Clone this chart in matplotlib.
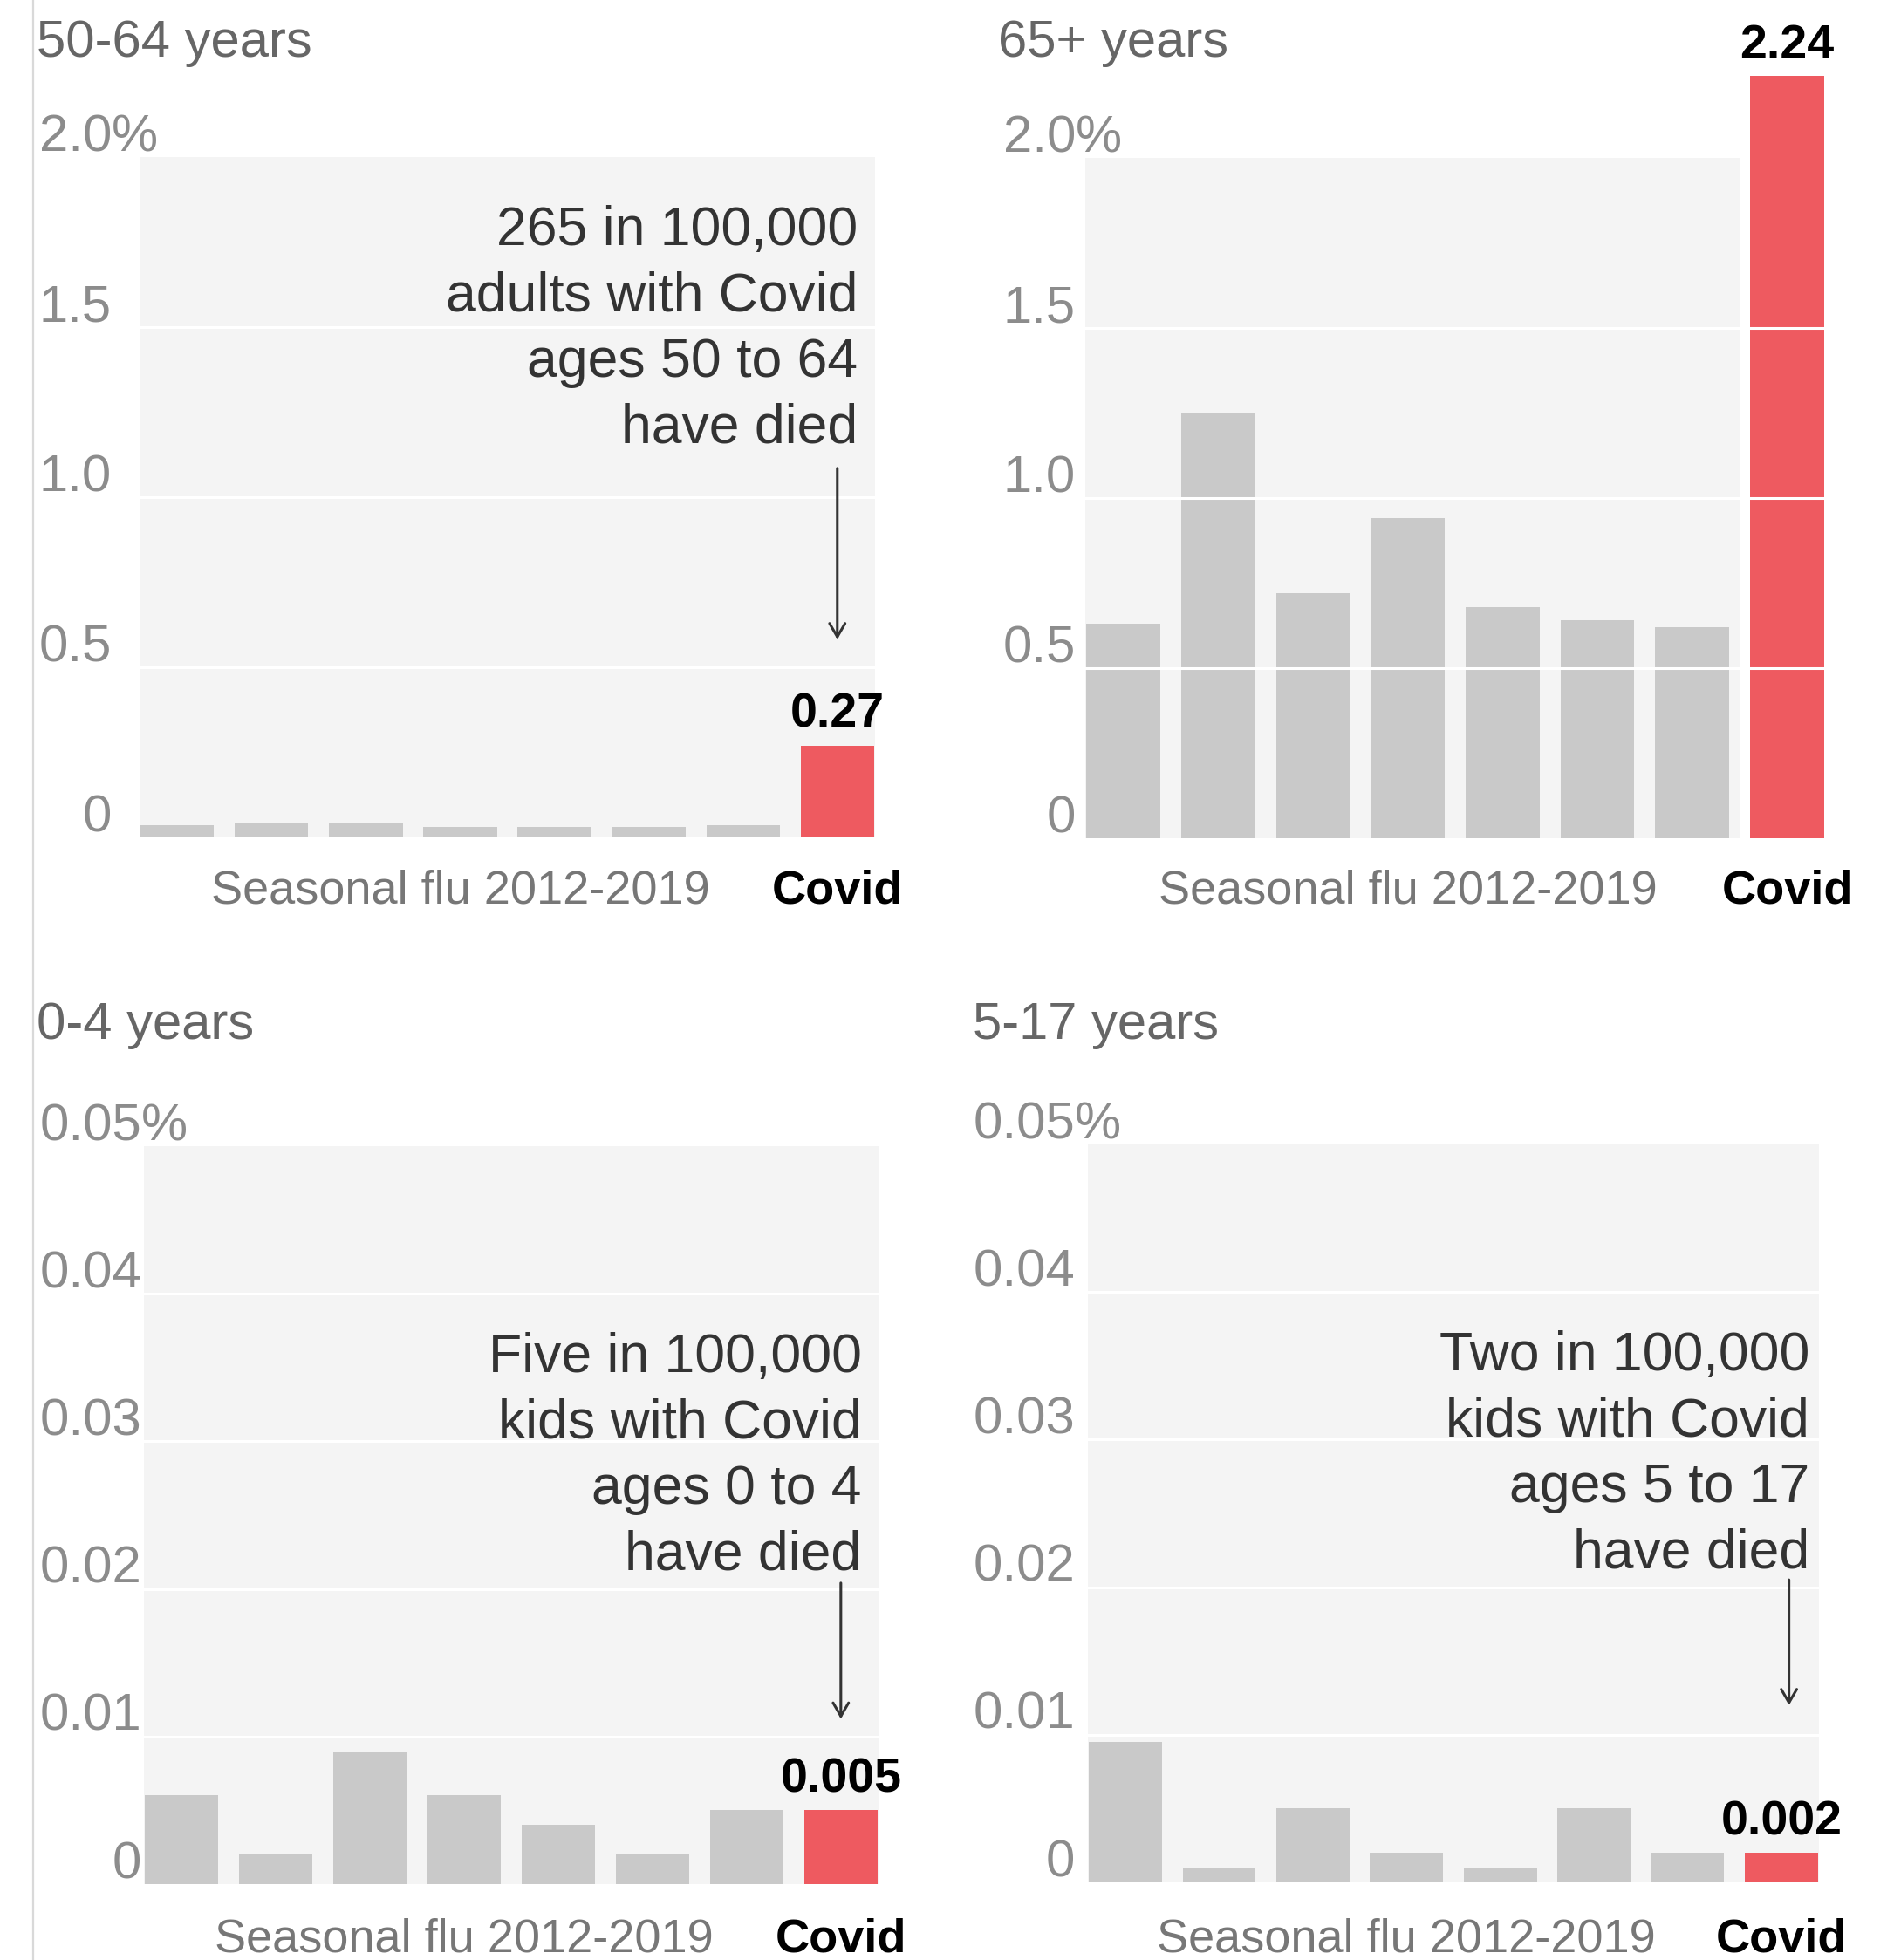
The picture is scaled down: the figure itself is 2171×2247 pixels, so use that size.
import matplotlib
matplotlib.use("Agg")
import matplotlib.pyplot as plt
from matplotlib.lines import Line2D

# --- data -------------------------------------------------------------
age_groups = ["50-64 years", "65+ years", "0-4 years", "5-17 years"]
flu_label = "Seasonal flu 2012-2019"
covid_label = "Covid"

# death rate (%) for the seven flu seasons, 2012-2019
flu_50_64 = [0.035, 0.04, 0.04, 0.03, 0.03, 0.03, 0.035]
flu_65_plus = [0.63, 1.25, 0.72, 0.94, 0.68, 0.64, 0.62]
flu_0_4 = [0.006, 0.002, 0.009, 0.006, 0.004, 0.002, 0.005]
flu_5_17 = [0.0095, 0.001, 0.005, 0.002, 0.001, 0.005, 0.002]

covid_rates = [0.27, 2.24, 0.005, 0.002]
covid_labels = ["0.27", "2.24", "0.005", "0.002"]

adult_ticks = [0, 0.5, 1.0, 1.5, 2.0]
adult_tick_labels = ["0", "0.5", "1.0", "1.5", "2.0"]
kid_ticks = [0, 0.01, 0.02, 0.03, 0.04, 0.05]
kid_tick_labels = ["0", "0.01", "0.02", "0.03", "0.04", "0.05"]

notes = [
    "265 in 100,000\nadults with Covid\nages 50 to 64\nhave died",
    None,
    "Five in 100,000\nkids with Covid\nages 0 to 4\nhave died",
    "Two in 100,000\nkids with Covid\nages 5 to 17\nhave died",
]

# --- style / layout ---------------------------------------------------
W, H = 2171, 2247
FONT = "Liberation Sans"
BG = "#f4f4f4"
FLU_COLOR = "#c9c9c9"
COVID_COLOR = "#ee5a60"
TICK_COLOR = "#8c8c8c"
TITLE_COLOR = "#666666"
NOTE_COLOR = "#333333"

# axes box in pixels: x0, x1, y of top tick, y of zero
panels = [
    dict(flu=flu_50_64, ticks=adult_ticks, labels=adult_tick_labels,
         box=(160, 1003, 180, 960), tick_right=128, title_xy=(42, 65),
         xlabel_y=1035, note_xy=(7.22, 1.16), arrow=(7.0, 1.085, 0.582), bg_right=7.4),
    dict(flu=flu_65_plus, ticks=adult_ticks, labels=adult_tick_labels,
         box=(1244, 2092, 181, 961), tick_right=1233, title_xy=(1144, 65),
         xlabel_y=1035, note_xy=None, arrow=None, bg_right=6.5),
    dict(flu=flu_0_4, ticks=kid_ticks, labels=kid_tick_labels,
         box=(165, 1007, 1314, 2160), tick_right=162, title_xy=(42, 1191),
         xlabel_y=2238, note_xy=(7.22, 0.0213), arrow=(7.0, 0.0204, 0.0112), bg_right=7.4),
    dict(flu=flu_5_17, ticks=kid_ticks, labels=kid_tick_labels,
         box=(1247, 2085, 1312, 2158), tick_right=1232, title_xy=(1115, 1191),
         xlabel_y=2238, note_xy=(7.3, 0.0213), arrow=(7.08, 0.0205, 0.012), bg_right=7.4),
]

fig = plt.figure(figsize=(W / 100, H / 100), dpi=100)
fig.patch.set_facecolor("white")

# thin border on the left edge
fig.add_artist(Line2D([38 / W, 38 / W], [0, 1], color="#d9d9d9", lw=1.6))

for i, p in enumerate(panels):
    x0, x1, ytop, yzero = p["box"]
    ax = fig.add_axes([x0 / W, 1 - yzero / H, (x1 - x0) / W, (yzero - ytop) / H])
    ax.set_facecolor("none")
    ax.set_xlim(-0.4, 7.4)
    ax.set_ylim(0, p["ticks"][-1])
    for s in ax.spines.values():
        s.set_visible(False)
    ax.set_xticks([])
    ax.set_yticks([])

    ax.axvspan(-0.4, p["bg_right"], color=BG, zorder=0, lw=0)

    xs = list(range(len(p["flu"])))
    ax.bar(xs, p["flu"], width=0.78, color=FLU_COLOR, zorder=1, clip_on=False)
    ax.bar([len(xs)], [covid_rates[i]], width=0.78, color=COVID_COLOR,
           zorder=1, clip_on=False)

    # white gridlines drawn over the bars
    for t in p["ticks"][1:-1]:
        ax.axhline(t, color="white", lw=2.2, zorder=2)

    # tick labels: numbers right-aligned, % hanging on the top one
    xf = p["tick_right"] / W
    for t, lab in zip(p["ticks"], p["labels"]):
        ax.annotate(lab, xy=(xf, t), xycoords=("figure fraction", "data"),
                    xytext=(0, 5), textcoords="offset points",
                    ha="right", va="baseline", fontsize=43,
                    color=TICK_COLOR, family=FONT)
    ax.annotate("%", xy=(xf, p["ticks"][-1]), xycoords=("figure fraction", "data"),
                xytext=(0, 5), textcoords="offset points",
                ha="left", va="baseline", fontsize=43,
                color=TICK_COLOR, family=FONT)

    # panel title
    tx, ty = p["title_xy"]
    fig.text(tx / W, 1 - ty / H, age_groups[i], ha="left", va="baseline",
             fontsize=43, color=TITLE_COLOR, family=FONT)

    # x labels
    ly = 1 - p["xlabel_y"] / H
    ax.annotate(flu_label, xy=((len(xs) - 1) / 2, ly),
                xycoords=("data", "figure fraction"),
                ha="center", va="baseline", fontsize=39,
                color="#777777", family=FONT)
    ax.annotate(covid_label, xy=(len(xs), ly),
                xycoords=("data", "figure fraction"),
                ha="center", va="baseline", fontsize=39,
                fontweight="bold", color="black", family=FONT)

    # value label on the covid bar
    ax.annotate(covid_labels[i], xy=(len(xs), covid_rates[i]),
                xytext=(0, 15), textcoords="offset points",
                ha="center", va="baseline", fontsize=40,
                fontweight="bold", color="black", family=FONT,
                annotation_clip=False)

    # note with arrow
    if notes[i]:
        nx, ny = p["note_xy"]
        ax.text(nx, ny, notes[i], ha="right", va="baseline",
                fontsize=45, color=NOTE_COLOR, family=FONT, linespacing=1.36)
        axx, a0, a1 = p["arrow"]
        ax.annotate("", xy=(axx, a1), xytext=(axx, a0),
                    arrowprops=dict(arrowstyle="->,head_length=0.55,head_width=0.32",
                                    color=NOTE_COLOR, lw=2.2,
                                    shrinkA=0, shrinkB=0, mutation_scale=20))

fig.savefig("out.png", dpi=100, facecolor="white")
